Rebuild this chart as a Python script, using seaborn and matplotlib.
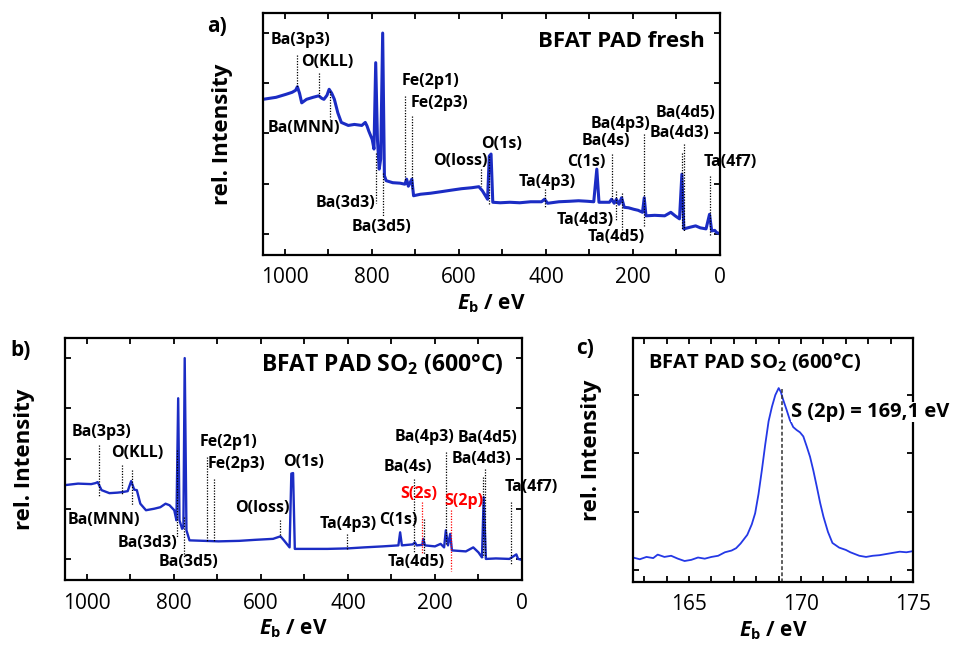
import matplotlib
matplotlib.use('Agg')
import matplotlib.pyplot as plt
import seaborn as sns
from matplotlib.ticker import MultipleLocator

# survey a) BFAT PAD fresh  (binding energy / eV, rel. intensity)
ev_a = [1050, 1020, 997, 983, 975, 971, 966, 961, 950, 935, 922, 915, 910, 903, 898, 892, 886,
        878, 870, 854, 840, 823, 815, 811, 807, 799, 795, 791, 787, 783, 779.6, 775, 771,
        767, 752, 735, 724, 720, 716, 708, 704, 688, 665, 641, 618, 594, 570, 554, 546, 534,
        530, 526, 522, 505, 483, 460, 435, 410, 403, 396, 370, 345, 325, 305, 290, 283, 278,
        265, 254, 249, 243, 238, 232, 226, 220, 210, 198, 188, 178, 174, 170, 150, 127,
        113, 103, 93, 87.5, 83, 70, 56, 45, 32, 24, 19, 12, 8, 0]
int_a = [2.68, 2.72, 2.78, 2.82, 2.86, 2.93, 2.80, 2.61, 2.68, 2.72, 2.75, 2.70, 2.68, 2.76, 2.88, 2.80, 2.68,
         2.41, 2.22, 2.16, 2.18, 2.16, 2.22, 2.15, 2.05, 1.88, 1.69, 3.41, 1.88, 1.29, 1.49, 4.00, 1.16,
         1.06, 1.02, 1.01, 0.99, 1.09, 0.95, 1.09, 0.76, 0.79, 0.81, 0.84, 0.87, 0.90, 0.92, 0.94, 0.86, 0.69,
         1.55, 1.59, 0.63, 0.62, 0.63, 0.62, 0.64, 0.64, 0.69, 0.61, 0.64, 0.65, 0.66, 0.65, 0.64, 1.29, 0.63,
         0.63, 0.63, 0.69, 0.61, 0.69, 0.59, 0.72, 0.53, 0.52, 0.49, 0.47, 0.43, 0.72, 0.36, 0.37, 0.36,
         0.43, 0.36, 0.30, 1.19, 0.10, 0.13, 0.16, 0.12, 0.10, 0.39, 0.06, 0.07, 0.03, 0.00]

# survey b) BFAT PAD SO2 (600 °C)
ev_b = [1050, 1020, 990, 980, 975, 966, 948, 930, 919, 906, 898, 891, 885, 877, 864, 845, 831,
        819, 810, 799, 794, 790, 787, 781, 778, 775, 771, 764, 730, 697, 650, 614, 572, 555,
        547, 534, 530, 526, 522, 490, 447, 400, 363, 320, 284, 280, 276, 251, 246, 242, 229,
        227, 223, 200, 187, 179, 175, 170, 165, 161, 145, 129, 112, 100, 92, 88, 83, 60, 29,
        13, 9, 0]
int_b = [1.47, 1.50, 1.49, 1.51, 1.53, 1.37, 1.31, 1.32, 1.33, 1.35, 1.55, 1.38, 1.37, 1.10, 0.97, 1.00, 1.03,
         1.10, 1.07, 0.97, 0.77, 3.20, 0.77, 0.60, 0.63, 4.00, 0.57, 0.37, 0.36, 0.35, 0.36, 0.38, 0.40, 0.45,
         0.37, 0.23, 1.70, 1.71, 0.20, 0.20, 0.20, 0.21, 0.23, 0.25, 0.27, 0.53, 0.27, 0.29, 0.33, 0.27, 0.28,
         0.40, 0.27, 0.25, 0.30, 0.23, 0.57, 0.27, 0.50, 0.17, 0.16, 0.15, 0.23, 0.13, 0.03, 1.23, 0.00, 0.01, 0.00,
         0.09, 0.00, -0.02]

# detail c) S 2p region
ev_c = [162.5, 162.8, 163.1, 163.4, 163.6, 163.9, 164.2, 164.5, 164.8, 165.1, 165.4, 165.7, 166.0,
        166.3, 166.6, 166.9, 167.1, 167.3, 167.6, 167.8, 167.95, 168.1, 168.25, 168.4, 168.55, 168.7,
        168.85, 169.0, 169.1, 169.2, 169.35, 169.5, 169.65, 169.8, 169.95, 170.1, 170.25, 170.4, 170.55,
        170.7, 170.85, 171.0, 171.2, 171.4, 171.7, 172.0, 172.2, 172.4, 172.6, 172.9, 173.2, 173.5,
        173.8, 174.1, 174.4, 174.7, 175.0]
int_c = [0.21, 0.18, 0.22, 0.20, 0.26, 0.22, 0.24, 0.19, 0.15, 0.17, 0.21, 0.19, 0.22,
         0.24, 0.30, 0.33, 0.37, 0.45, 0.60, 0.78, 0.97, 1.30, 1.71, 2.15, 2.55, 2.80,
         3.00, 3.12, 3.05, 2.92, 2.75, 2.57, 2.45, 2.40, 2.36, 2.29, 2.12, 1.94, 1.70,
         1.43, 1.15, 0.91, 0.65, 0.46, 0.38, 0.34, 0.30, 0.27, 0.24, 0.22, 0.24, 0.25,
         0.27, 0.29, 0.31, 0.30, 0.32]

# peak labels: text, line energy, line from, line to, text x, text y, colour
peaks_a = [
    ('Ba(3p3)', 971, 3.57, 2.93, 963, 3.87, 'k'),
    ('O(KLL)', 922, 3.20, 2.75, 903, 3.43, 'k'),
    ('Ba(MNN)', 897, 2.85, 2.28, 956, 2.10, 'k'),
    ('Ba(3d3)', 791, 1.62, 0.61, 860, 0.61, 'k'),
    ('Ba(3d5)', 775, 1.22, 0.36, 778, 0.13, 'k'),
    ('Fe(2p1)', 723, 2.75, 1.06, 665, 3.04, 'k'),
    ('Fe(2p3)', 708, 2.35, 0.89, 645, 2.60, 'k'),
    ('O(loss)', 550, 1.30, 0.96, 597, 1.45, 'k'),
    ('O(1s)', 530, 1.55, 0.60, 501, 1.80, 'k'),
    ('Ta(4p3)', 402, 0.89, 0.53, 398, 1.04, 'k'),
    ('C(1s)', None, 0, 0, 306, 1.43, 'k'),
    ('Ba(4s)', 247, 1.59, 0.69, 261, 1.85, 'k'),
    ('Ba(4p3)', 174, 1.98, 0.16, 228, 2.18, 'k'),
    ('Ta(4d3)', 239, 0.86, 0.26, 310, 0.28, 'k'),
    ('Ta(4d5)', 226, 0.82, -0.07, 239, -0.07, 'k'),
    ('Ba(4d5)', 83, 1.80, 0.06, 79, 2.41, 'k'),
    ('Ba(4d3)', 88, 1.62, 0.10, 94, 2.00, 'k'),
    ('Ta(4f7)', 24, 1.16, -0.05, -23, 1.43, 'k'),
]
peaks_b = [
    ('Ba(3p3)', 973, 2.27, 1.23, 967, 2.53, 'k'),
    ('O(KLL)', 920, 1.87, 1.30, 885, 2.10, 'k'),
    ('Ba(MNN)', 895, 1.77, 1.07, 960, 0.78, 'k'),
    ('Ba(3d3)', 792, 2.17, 0.43, 860, 0.31, 'k'),
    ('Ba(3d5)', 777, 0.83, 0.03, 767, -0.07, 'k'),
    ('Fe(2p1)', 724, 2.03, 0.33, 674, 2.33, 'k'),
    ('Fe(2p3)', 708, 1.60, 0.35, 655, 1.89, 'k'),
    ('O(loss)', 555, 0.77, 0.43, 596, 1.02, 'k'),
    ('O(1s)', None, 0, 0, 502, 1.93, 'k'),
    ('Ta(4p3)', 403, 0.50, 0.17, 399, 0.69, 'k'),
    ('C(1s)', None, 0, 0, 285, 0.77, 'k'),
    ('Ba(4s)', 248, 1.60, 0.13, 262, 1.83, 'k'),
    ('S(2s)', 229, 1.13, 0.10, 237, 1.30, 'red'),
    ('Ba(4p3)', 175, 2.13, 0.30, 223, 2.42, 'k'),
    ('S(2p)', 163, 0.97, -0.24, 133, 1.15, 'red'),
    ('Ta(4d5)', 226, 0.80, 0.10, 242, -0.07, 'k'),
    ('Ba(4d5)', 85, 1.80, 0.03, 79, 2.40, 'k'),
    ('Ba(4d3)', 89, 1.63, 0.03, 94, 2.00, 'k'),
    ('Ta(4f7)', 26, 1.13, -0.10, -21, 1.43, 'k'),
]

sns.set_style('ticks')
plt.rcParams['font.family'] = ['Open Sans', 'DejaVu Sans']
plt.rcParams['text.color'] = 'black'
plt.rcParams['axes.labelcolor'] = 'black'
plt.rcParams['xtick.color'] = 'black'
plt.rcParams['ytick.color'] = 'black'
plt.rcParams['mathtext.fontset'] = 'custom'
plt.rcParams['mathtext.rm'] = 'Open Sans'
plt.rcParams['mathtext.bf'] = 'Open Sans:bold'
plt.rcParams['mathtext.it'] = 'Open Sans:italic'
plt.rcParams['mathtext.bfit'] = 'Open Sans:italic:bold'

fig = plt.figure(figsize=(9.69, 6.48), dpi=100)
ax_a = fig.add_axes([0.2714, 0.6065, 0.4716, 0.3735])
ax_b = fig.add_axes([0.0671, 0.1049, 0.4716, 0.3735])
ax_c = fig.add_axes([0.6533, 0.1019, 0.2890, 0.3765])

xlab = r'$\mathbfit{E}_\mathbf{b}$ / eV'


def style_axes(ax):
    for s in ax.spines.values():
        s.set_linewidth(1.6)
        s.set_color('black')
    ax.tick_params(which='both', direction='in', top=True, right=True, length=4,
                   width=1.3, labelsize=15, pad=9, labelleft=False)
    ax.set_xlabel(xlab, fontsize=15, fontweight='bold', labelpad=3)
    ax.set_ylabel('rel. Intensity', fontsize=16, fontweight='bold')


def survey(ax, ev, inten, peaks, lw):
    sns.lineplot(x=ev, y=inten, ax=ax, color='#1b2cc4', linewidth=lw, sort=False, estimator=None)
    for name, xl, y0, y1, tx, ty, col in peaks:
        if xl is not None:
            ax.plot([xl, xl], [y0, y1], color=col, linestyle=(0, (1, 1.2)), linewidth=0.9)
        ax.text(tx, ty, name, color=col, fontsize=11.5, fontweight='bold',
                ha='center', va='center')
    ax.set_xlim(1050, 0)
    ax.set_ylim(-0.42, 4.4)
    ax.set_yticks(range(5))
    ax.xaxis.set_major_locator(MultipleLocator(200))
    ax.xaxis.set_minor_locator(MultipleLocator(100))
    style_axes(ax)
    ax.yaxis.set_label_coords(-0.066, 0.5)


survey(ax_a, ev_a, int_a, peaks_a, 2.2)
survey(ax_b, ev_b, int_b, peaks_b, 1.7)

ax_a.text(0.966, 0.883, 'BFAT PAD fresh', transform=ax_a.transAxes, fontsize=16,
          fontweight='bold', ha='right', va='center')
ax_b.text(0.96, 0.89, r'BFAT PAD SO$_\mathbf{2}$ (600°C)', transform=ax_b.transAxes,
          fontsize=16.5, fontweight='bold', ha='right', va='center')

# detail panel
sns.lineplot(x=ev_c, y=int_c, ax=ax_c, color='#2438e6', linewidth=1.3, sort=False, estimator=None)
ax_c.plot([169.15, 169.15], [3.1, -0.21], color='#333333', linestyle=(0, (2.5, 1.5)), linewidth=1.1)
ax_c.set_xlim(162.5, 175)
ax_c.set_ylim(-0.21, 3.98)
ax_c.set_yticks(range(4))
ax_c.xaxis.set_major_locator(MultipleLocator(5))
ax_c.xaxis.set_minor_locator(MultipleLocator(1))
style_axes(ax_c)
ax_c.yaxis.set_label_coords(-0.11, 0.54)
ax_c.text(0.054, 0.90, r'BFAT PAD SO$_\mathbf{2}$ (600°C)', transform=ax_c.transAxes,
          fontsize=14.5, fontweight='bold', ha='left', va='center')
ax_c.text(0.565, 0.697, 'S (2p) = 169,1 eV', transform=ax_c.transAxes, fontsize=14.5,
          fontweight='bold', ha='left', va='center', zorder=5, clip_on=False,
          bbox=dict(facecolor='white', edgecolor='none', pad=0))

fig.text(217 / 969, 1 - 26 / 648, 'a)', fontsize=15, fontweight='bold', ha='center', va='center')
fig.text(21 / 969, 1 - 351 / 648, 'b)', fontsize=15, fontweight='bold', ha='center', va='center')
fig.text(585 / 969, 1 - 348 / 648, 'c)', fontsize=15, fontweight='bold', ha='center', va='center')

fig.savefig('out.png', dpi=100, facecolor='white')
